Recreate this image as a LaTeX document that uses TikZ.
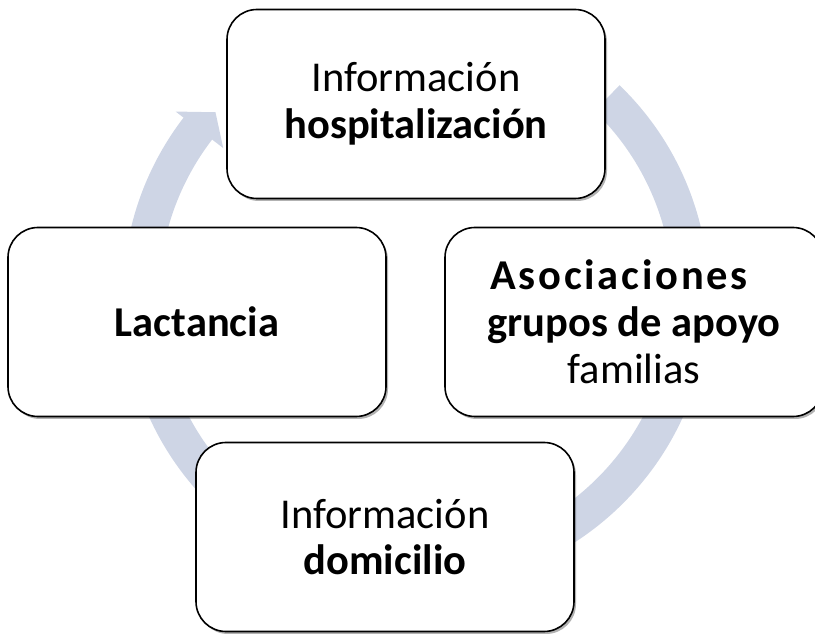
\documentclass[tikz,border=0pt]{standalone}
\usepackage{fontspec}
\setmainfont{Carlito}
\usetikzlibrary{shadows}
\definecolor{ringcol}{RGB}{206,213,229}
\begin{document}
\begin{tikzpicture}[x=1pt,y=1pt,
  cbox/.style={draw=black, line width=1.6pt, fill=white, rounded corners=30pt,
    minimum width=378pt, minimum height=189pt, align=center, inner sep=0pt,
    font=\fontsize{42.5}{46.8}\selectfont,
    drop shadow={shadow xshift=2pt, shadow yshift=-2.5pt, fill=black, opacity=0.3}}]
\useasboundingbox (0,0) rectangle (815,633);
% circular arrow behind the boxes
\begin{scope}[shift={(416,337)}]
\fill[ringcol] (46:293) arc[start angle=46, end angle=-217.5, radius=293pt]
  -- (-217.5:303) -- (-222.5:272) -- (-217.5:243) -- (-217.5:257)
  arc[start angle=-217.5, end angle=46, radius=257pt] -- cycle;
\end{scope}
\node[cbox] (hosp) at (416,529) {Información\\\textbf{hospitalización}};
\node[cbox] (lact) at (197,311) {\textbf{Lactancia}};
\node[cbox] (asoc) at (634,311) {{\bfseries\addfontfeatures{LetterSpace=6.5}Asociaciones}\kern30pt\\\textbf{grupos de apoyo}\\familias};
\node[cbox] (domi) at (385,96) {Información\\\textbf{domicilio}};
\end{tikzpicture}
\end{document}
